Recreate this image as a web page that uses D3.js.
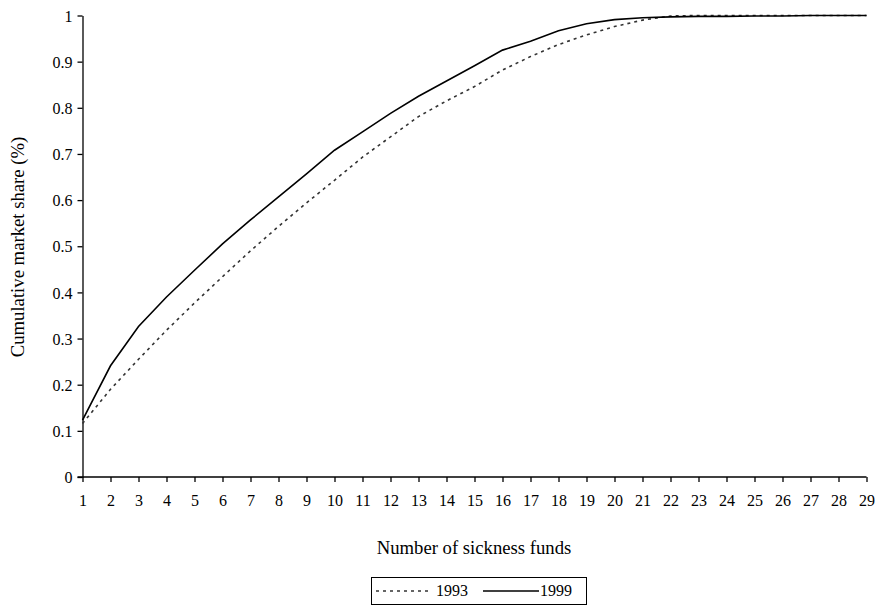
<!DOCTYPE html>
<html><head><meta charset="utf-8">
<script src="https://cdn.jsdelivr.net/npm/d3@7"></script>
<style>body{margin:0;background:#fff}svg{display:block}svg text{font-family:'Liberation Serif','Times New Roman',Times,'DejaVu Serif',serif !important;fill:#000}</style>
</head><body><svg id="c" width="881" height="605"></svg>
<script>
const funds = d3.range(1, 30);
const yTicks = [0,0.1,0.2,0.3,0.4,0.5,0.6,0.7,0.8,0.9,1];
const series1993 = [0.116,0.19,0.255,0.318,0.377,0.434,0.49,0.543,0.594,0.643,0.693,0.737,0.781,0.815,0.846,0.882,0.911,0.937,0.958,0.976,0.99,0.999,1.0,1.0,1.0,1.0,1.0,1.0,1.0];
const series1999 = [0.123,0.241,0.326,0.39,0.448,0.505,0.557,0.607,0.657,0.708,0.748,0.788,0.825,0.858,0.891,0.925,0.944,0.967,0.982,0.991,0.995,0.997,0.998,0.998,0.999,0.999,1.0,1.0,1.0];
const seriesNames = ["1993","1999"];
const FONT = "'Liberation Serif','Times New Roman',Times,'DejaVu Serif',serif";

const svg = d3.select("#c");
const x = d3.scaleLinear().domain([1,29]).range([82.5,866.5]);
const y = d3.scaleLinear().domain([0,1]).range([477,15.5]);

const xAxis = svg.append("g").attr("transform","translate(0,477)")
  .call(d3.axisBottom(x).tickValues(funds).tickFormat(d3.format("d")).tickSize(5).tickSizeOuter(0));
const yAxis = svg.append("g").attr("transform","translate(82.5,0)")
  .call(d3.axisLeft(y).tickValues(yTicks).tickFormat(d=>d===0?"0":d===1?"1":d3.format(".1f")(d)).tickSize(5).tickSizeOuter(0));
[xAxis,yAxis].forEach(g=>{
  g.attr("font-family",FONT).attr("font-size",16);
  g.selectAll("path.domain").attr("stroke","#000").attr("stroke-width",1.3);
  g.selectAll(".tick line").attr("stroke","#000").attr("stroke-width",1.3);
});
xAxis.selectAll(".tick text").attr("dy",0).attr("y",29);
yAxis.selectAll(".tick text").attr("x",-10).attr("dy","0.35em");
xAxis.select("path.domain").attr("d","M77.5,0H866.5");

const line = d3.line().x((d,i)=>x(funds[i])).y(d=>y(d));
svg.append("path").datum(series1993).attr("d",line).attr("fill","none")
  .attr("stroke","#333").attr("stroke-width",1.6).attr("stroke-dasharray","3,4");
svg.append("path").datum(series1999).attr("d",line).attr("fill","none")
  .attr("stroke","#000").attr("stroke-width",1.6);

svg.append("text").attr("x",474).attr("y",554).attr("text-anchor","middle")
  .attr("font-family",FONT).attr("font-size",18.7).text("Number of sickness funds");
svg.append("text").attr("transform","translate(24,247) rotate(-90)").attr("text-anchor","middle")
  .attr("font-family",FONT).attr("font-size",18.7).text("Cumulative market share (%)");

const lg = svg.append("g").attr("font-family",FONT).attr("font-size",16);
lg.append("rect").attr("x",371.5).attr("y",577.5).attr("width",215).attr("height",27)
  .attr("fill","#fff").attr("stroke","#000").attr("stroke-width",1);
lg.append("line").attr("x1",376).attr("x2",430).attr("y1",591).attr("y2",591)
  .attr("stroke","#333").attr("stroke-width",1.5).attr("stroke-dasharray","3,4");
lg.append("text").attr("x",436).attr("y",596).text(seriesNames[0]);
lg.append("line").attr("x1",483).attr("x2",539).attr("y1",591).attr("y2",591)
  .attr("stroke","#000").attr("stroke-width",1.5);
lg.append("text").attr("x",540).attr("y",596).text(seriesNames[1]);
</script></body></html>
